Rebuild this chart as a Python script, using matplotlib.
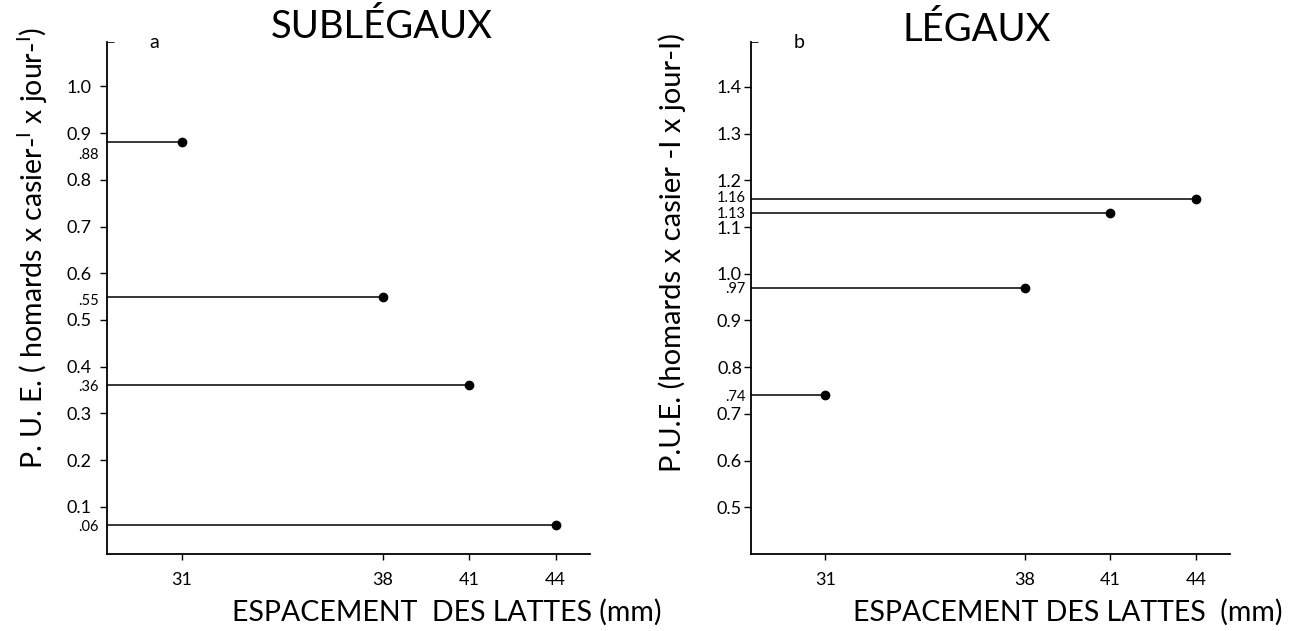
import matplotlib
matplotlib.use('Agg')
import matplotlib.pyplot as plt

# espacement des lattes (mm)
espacement = [31, 38, 41, 44]
pue_sublegaux = [0.88, 0.55, 0.36, 0.06]
pue_legaux = [0.74, 0.97, 1.13, 1.16]
lab_sublegaux = ['.88', '.55', '.36', '.06']
lab_legaux = ['.74', '.97', '1.13', '1.16']

yt_sub = [0.1, 0.2, 0.3, 0.4, 0.5, 0.6, 0.7, 0.8, 0.9, 1.0]
yt_leg = [0.5, 0.6, 0.7, 0.8, 0.9, 1.0, 1.1, 1.2, 1.3, 1.4]

plt.rcParams['font.family'] = ['Lato', 'DejaVu Sans']

fig = plt.figure(figsize=(12.96, 6.31), dpi=100)
ax1 = fig.add_axes([0.0826, 0.1228, 0.3727, 0.8106])
ax2 = fig.add_axes([0.5795, 0.1220, 0.3696, 0.8114])


def panel(ax, vals, labs, yticks, ylim, lab_dy, lab_dx, ypad):
    ax.set_xlim(28.4, 45.2)
    ax.set_ylim(*ylim)
    x0 = ax.get_xlim()[0]
    ax.hlines(vals, x0, espacement, color='black', lw=1.1)
    ax.plot(espacement, vals, 'o', color='black', ms=6)
    for v, t, dy in zip(vals, labs, lab_dy):
        ax.annotate(t, (0, v), xycoords=('axes fraction', 'data'),
                    xytext=(lab_dx, dy), textcoords='offset points',
                    ha='right', va='center', fontsize=10.5)
    for s in ['top', 'right']:
        ax.spines[s].set_visible(False)
    for s in ['left', 'bottom']:
        ax.spines[s].set_linewidth(1.3)
    ax.set_xticks(espacement)
    ax.set_xticklabels([str(e) for e in espacement], fontsize=13)
    ax.set_yticks(yticks)
    ax.set_yticklabels(['%.1f' % t for t in yticks], fontsize=13)
    ax.tick_params(axis='y', length=5, width=1, pad=ypad, direction='out')
    ax.tick_params(axis='x', length=4, width=1, pad=9, direction='out')
    # petit repere en haut de l'axe
    ax.set_yticks([ylim[1]], minor=True)
    ax.tick_params(axis='y', which='minor', length=5, direction='in')


panel(ax1, pue_sublegaux, lab_sublegaux, yt_sub, (0, 1.095),
      [-9, -3, -1, -1], -6, 6)
panel(ax2, pue_legaux, lab_legaux, yt_leg, (0.4, 1.496),
      [-1, -1, -1, 1], -4, 1.5)

ylab = 'P. U. E. ( homards x casier-$^{\\mathregular{I}}$ x jour-$^{\\mathregular{I}}$)'
fig.text(0.025, 0.607, ylab, rotation=90, ha='center', va='center', fontsize=20.5)
fig.text(0.519, 0.600, 'P.U.E. (homards x casier -I x jour-I)', rotation=90,
         ha='center', va='center', fontsize=21)

fig.text(0.2947, 0.957, 'SUBLÉGAUX', ha='center', va='center', fontsize=27.5)
fig.text(0.7535, 0.952, 'LÉGAUX', ha='center', va='center', fontsize=27.5)
fig.text(0.119, 0.933, 'a', ha='center', va='center', fontsize=14)
fig.text(0.6165, 0.933, 'b', ha='center', va='center', fontsize=14)

fig.text(0.179, 0.029, 'ESPACEMENT  DES LATTES (mm)', ha='left', va='center', fontsize=20.5)
fig.text(0.658, 0.030, 'ESPACEMENT DES LATTES  (mm)', ha='left', va='center', fontsize=20.5)

plt.savefig('out.png', dpi=100)
